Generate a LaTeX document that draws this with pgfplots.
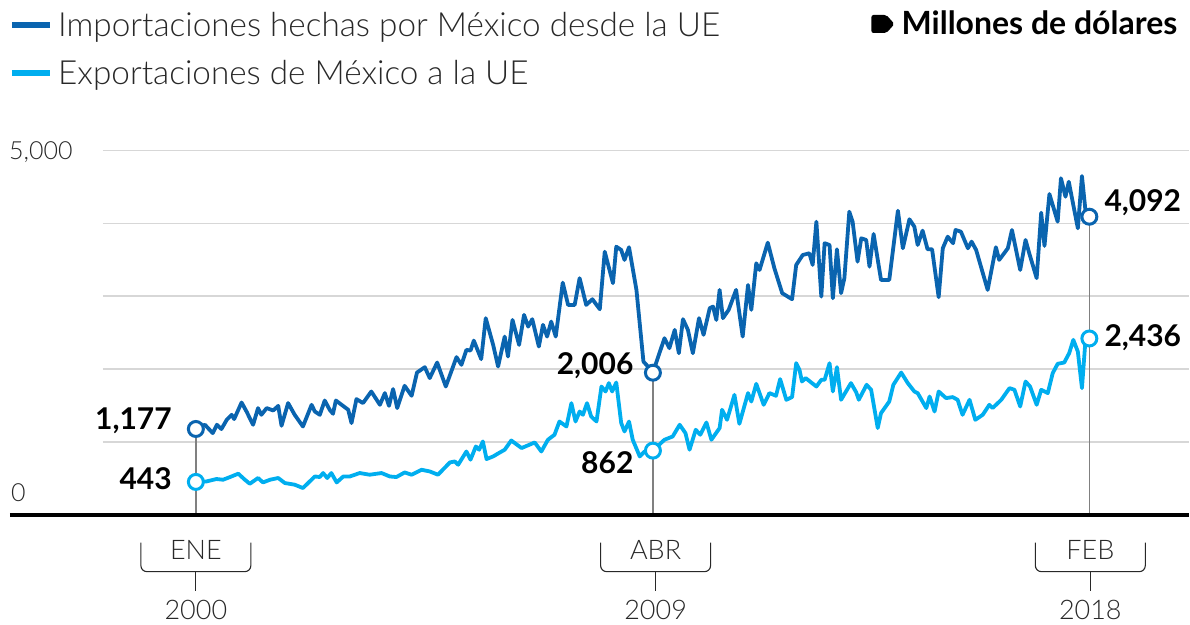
\documentclass[border=0pt]{standalone}
\usepackage{pgfplots}
\pgfplotsset{compat=1.18}
\usepackage{fontspec}
\setmainfont{Lato Light}[BoldFont={Lato Bold}]
\definecolor{imp}{RGB}{10,100,175}
\definecolor{exp}{RGB}{0,174,239}
\definecolor{txt}{RGB}{40,40,40}
\definecolor{gridc}{RGB}{215,215,215}

\begin{document}
\begin{tikzpicture}
\begin{axis}[
  at={(103pt,-515pt)}, anchor=south west,
  width=1087pt, height=364.3pt, scale only axis,
  xmin=-22.57, xmax=241.26, ymin=0, ymax=5000,
  clip=false,
  axis line style={draw=none},
  tick style={draw=none},
  xtick=\empty,
  ytick={1000,2000,3000,4000,5000},
  yticklabels={},
  ymajorgrids,
  grid style={gridc, line width=1.5pt},
]
% vertical guide lines
\draw[gray, line width=1.4pt] (axis cs:0,1177) -- (axis cs:0,0);
\draw[gray, line width=1.4pt] (axis cs:111,1950) -- (axis cs:111,0);
\draw[gray, line width=1.4pt] (axis cs:217,4092) -- (axis cs:217,0);

\addplot[exp, line width=3.8pt, line join=round] coordinates {
(0,450) (2.6,457) (5.0,490) (6.6,480) (8.3,517) (10.3,563) (11.9,480) (13.1,425)
(15.1,504) (16.3,443) (18.0,480) (20.0,504) (21.6,435) (24.0,412) (26.0,366)
(28.9,525) (30.1,517) (30.9,572) (31.9,504) (32.9,572) (34.2,443) (35.8,525)
(37.4,525) (39.8,572) (42.2,549) (45.1,572) (47.1,525) (48.7,517) (50.7,580)
(52.4,549) (54.8,617) (56.8,594) (58.8,549) (61.7,718) (62.9,731) (63.7,686)
(65.7,868) (66.7,755) (68.0,937) (68.8,892) (69.7,1006) (70.6,764) (72.2,800)
(73.6,847) (75.0,892) (76.6,1019) (79.1,915) (82.3,992) (83.9,868) (85.5,1029)
(87.1,1098) (88.3,1280) (90.0,1211) (91.2,1532) (92.2,1280) (93.2,1417) (94.0,1372)
(95.0,1532) (96.0,1349) (97.3,1280) (98.5,1760) (99.5,1692) (100.3,1807) (101.1,1692)
(102.1,1815) (103.3,1258) (104.1,1143) (105.2,1280) (106.1,1029) (107.8,800) (109.0,868)
(111,880) (113.8,1029) (115.8,1074) (117.5,1235) (118.9,1121) (119.9,892) (121.4,1166)
(122.5,1098) (124.0,1266) (125.2,1029) (127.2,1190) (127.8,1441) (129.0,1303) (130.8,1646)
(132.0,1248) (134.1,1670) (134.9,1554) (136.1,1797) (137.9,1509) (139.3,1670) (140.9,1633)
(141.9,1862) (143.4,1578) (144.8,1615) (145.8,2081) (146.6,1989) (147.2,1829) (148.1,1876)
(150.7,1760) (151.9,1852) (152.7,1852) (153.9,2081) (154.7,1692) (155.7,2026) (156.7,1578)
(159.1,1807) (160.4,1678) (161.0,1578) (162.9,1784) (164.0,1715) (165.6,1190) (166.4,1395)
(168.4,1554) (169.4,1784) (171.3,1952) (172.9,1807) (174.5,1692) (175.3,1670) (177.4,1464)
(178.2,1623) (179.4,1417) (180.4,1692) (182.2,1601) (183.8,1615) (185.0,1578) (186.2,1372)
(187.9,1578) (189.3,1303) (191.1,1372) (192.7,1509) (193.5,1464) (195.6,1578) (197.6,1738)
(198.8,1715) (200.2,1486) (201.5,1829) (202.6,1760) (204.2,1509) (205.3,1715) (206.9,1670)
(208.1,1944) (209.3,2072) (210.9,2090) (212.1,2218) (213.1,2401) (214.2,2240) (215.2,1738)
(216.0,2356) (217,2420)
};

\addplot[imp, line width=3.8pt, line join=round] coordinates {
(0,1177) (2.2,1235) (4.1,1120) (5.1,1235) (6.2,1176) (7.5,1303) (8.7,1372) (9.3,1313)
(11.1,1541) (12.3,1417) (13.9,1235) (15.1,1464) (15.9,1372) (17.2,1464) (18.8,1431)
(20.0,1495) (20.8,1221) (22.4,1533) (24.0,1372) (26.0,1211) (28.1,1509) (28.9,1417)
(30.1,1372) (31.3,1568) (32.5,1441) (33.3,1386) (34.0,1568) (35.4,1509) (37.0,1441)
(37.8,1258) (39.0,1587) (40.6,1533) (42.6,1692) (44.7,1509) (45.9,1670) (46.9,1495)
(47.9,1725) (48.9,1464) (50.7,1770) (52.4,1633) (53.7,1952) (55.6,2026) (56.8,1876)
(58.6,2090) (60.7,1760) (63.3,2164) (64.5,2058) (65.7,2264) (66.7,2254) (67.5,2391)
(69.3,2136) (70.4,2699) (72.2,2332) (73.4,2035) (75.0,2446) (75.8,2172) (76.9,2675)
(78.5,2332) (79.7,2744) (80.7,2583) (81.7,2685) (83.3,2309) (84.3,2607) (85.3,2446)
(86.3,2652) (87.4,2446) (89.1,3187) (90.4,2881) (92.0,2881) (93.2,3248) (94.8,2881)
(96.3,2959) (98.1,2822) (99.3,3612) (101.3,3179) (102.1,3681) (103.3,3636) (104.1,3499)
(105.2,3673) (107.0,3087) (108.7,2103) (109.8,2035) (111,1950) (113.8,2424) (115.0,2287)
(116.3,2538) (117.3,2218) (118.3,2685) (119.5,2538) (120.7,2218) (122.2,2699) (123.3,2470)
(124.8,2836) (125.6,2858) (126.4,2675) (127.2,3087) (128.0,2699) (129.4,2813) (131.2,3087)
(132.8,2446) (134.1,3155) (134.9,2813) (136.1,3453) (136.9,3361) (138.9,3736) (140.5,3385)
(142.4,3042) (144.8,2959) (145.8,3430) (147.4,3567) (149.0,3590) (149.8,3430) (150.7,4024)
(151.9,2995) (152.7,3728) (153.9,3704) (154.7,2973) (155.7,3645) (156.7,3042) (157.5,3248)
(158.7,4161) (159.5,4024) (160.7,3475) (161.6,3796) (162.8,3773) (163.6,3407) (164.6,3855)
(166.4,3224) (168.4,3224) (170.5,4175) (171.7,3659) (173.3,4057) (174.5,3955) (175.3,3704)
(176.5,3901) (177.7,3645) (178.8,3645) (180.4,2987) (181.4,3659) (182.6,3818) (183.9,3728)
(184.5,3910) (185.8,3887) (187.5,3659) (188.4,3750) (189.5,3636) (192.3,3087) (194.3,3673)
(195.1,3499) (197.2,3659) (198.2,3910) (200.2,3361) (201.5,3773) (202.4,3590) (204.2,3248)
(205.3,4148) (206.1,3691) (207.3,4404) (209.3,4024) (210.1,4620) (211.2,4367) (212.0,4573)
(214.2,3933) (215.2,4651) (216.2,4093) (217,4092)
};

% end-point circles
\addplot[only marks, mark=*, mark size=7.5pt, line width=3pt, draw=imp, fill=white]
  coordinates {(0,1177) (111,1950) (217,4092)};
\addplot[only marks, mark=*, mark size=7.5pt, line width=3pt, draw=exp, fill=white]
  coordinates {(0,450) (111,880) (217,2420)};
\end{axis}

\begin{scope}[x=1pt,y=-1pt]
\path[use as bounding box] (0,0) rectangle (1190,625);
% baseline
\draw[black, line width=3.8pt] (10,515) -- (1190,515);
% y labels
\node[anchor=west, inner sep=0, text=txt, font=\fontsize{25}{25}\selectfont] at (9,152) {5,000};
\node[anchor=west, inner sep=0, text=txt, font=\fontsize{25}{25}\selectfont] at (11,493) {0};
% legend
\draw[imp, line width=6pt] (12,25) -- (50,25);
\node[anchor=base west, inner sep=0, text=txt, font=\fontsize{33.3}{33}\selectfont] at (58,37) {Importaciones hechas por México desde la UE};
\draw[exp, line width=6pt] (12,73) -- (50,73);
\node[anchor=base west, inner sep=0, text=txt, font=\fontsize{33.3}{33}\selectfont] at (58,85) {Exportaciones de México a la UE};
% unit
\fill[black, rounded corners=2pt] (872,15) -- (887,15) -- (895,24) -- (887,33) -- (872,33) -- cycle;
\node[anchor=base west, inner sep=0, font=\bfseries\fontsize{32}{32}\selectfont] at (902,35) {Millones de dólares};
% value labels
\node[anchor=east, inner sep=0, font=\bfseries\fontsize{30}{30}\selectfont] at (172,421) {1,177};
\node[anchor=east, inner sep=0, font=\bfseries\fontsize{30}{30}\selectfont] at (172,479) {443};
\node[anchor=east, inner sep=0, font=\bfseries\fontsize{30}{30}\selectfont] at (634,366) {2,006};
\node[anchor=east, inner sep=0, font=\bfseries\fontsize{30}{30}\selectfont] at (634,463) {862};
\node[anchor=west, inner sep=0, font=\bfseries\fontsize{30}{30}\selectfont] at (1105,203) {4,092};
\node[anchor=west, inner sep=0, font=\bfseries\fontsize{30}{30}\selectfont] at (1105,338) {2,436};
% brackets and date labels
\foreach \cx/\mon/\yr in {196/ENE/2000, 656/ABR/2009, 1091/FEB/2018}{
  \draw[txt, line width=1.1pt, rounded corners=6pt] (\cx-55,543) -- (\cx-55,572) -- (\cx+55,572) -- (\cx+55,543);
  \draw[txt, line width=1.1pt] (\cx,572) -- (\cx,591);
  \node[anchor=base, inner sep=0, text=txt, font=\fontsize{27}{27}\selectfont] at (\cx,560) {\mon};
  \node[anchor=base, inner sep=0, text=txt, font=\fontsize{27}{27}\selectfont] at (\cx,620) {\yr};
}
\end{scope}
\end{tikzpicture}
\end{document}
